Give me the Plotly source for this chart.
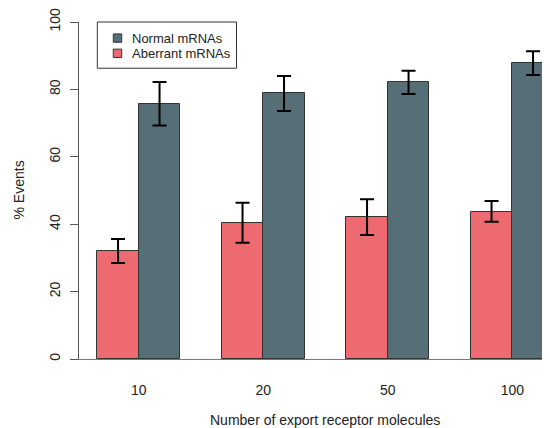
import plotly.graph_objects as go

categories = ["10", "20", "50", "100"]
aberrant = [32.1, 40.3, 42.2, 43.7]
aberrant_err_hi = [3.5, 6.1, 5.2, 3.2]
aberrant_err_lo = [3.6, 5.8, 5.4, 3.0]
normal = [75.8, 78.8, 82.2, 87.8]
normal_err_hi = [6.4, 5.2, 3.3, 3.5]
normal_err_lo = [6.5, 5.2, 3.6, 3.5]
y_ticks = [0, 20, 40, 60, 80, 100]
legend_labels = ["Normal mRNAs", "Aberrant mRNAs"]

# R barplot-style positions: each group = space 1 + two bars of width 1
ab_x = [1.5 + 3 * i for i in range(len(categories))]
no_x = [2.5 + 3 * i for i in range(len(categories))]
centers = [2 + 3 * i for i in range(len(categories))]

PINK = "#EC6A70"
SLATE = "#566F76"
FONT = "Liberation Sans, Arial, sans-serif"
TXT = "#222222"

fig = go.Figure()
fig.add_trace(go.Bar(
    x=ab_x, y=aberrant, width=1.0, name=legend_labels[1], showlegend=False,
    marker=dict(color=PINK, line=dict(color="#333333", width=1)),
    error_y=dict(type="data", symmetric=False, array=aberrant_err_hi,
                 arrayminus=aberrant_err_lo, color="black", thickness=2, width=7),
))
fig.add_trace(go.Bar(
    x=no_x, y=normal, width=1.0, name=legend_labels[0], showlegend=False,
    marker=dict(color=SLATE, line=dict(color="#333333", width=1)),
    error_y=dict(type="data", symmetric=False, array=normal_err_hi,
                 arrayminus=normal_err_lo, color="black", thickness=2, width=7),
))

# page body adds an 8px offset; plot area in screen px: x 79..550, y 20..359
PL, PW, PB, PH = 79.0, 471.0, 359.0, 339.0


def px(sx):
    return (sx - PL) / PW


def py(sy):
    return (PB - sy) / PH


shapes = [
    dict(type="rect", xref="paper", yref="paper", x0=px(97.3), x1=px(236.5),
         y0=py(66.5), y1=py(20), line=dict(color="#333333", width=1),
         fillcolor="white", layer="above"),
]
annotations = []
for lab, col, sy in zip(legend_labels, [SLATE, PINK], [36.2, 51.5]):
    shapes.append(dict(type="rect", xref="paper", yref="paper", x0=px(113.3), x1=px(121.7),
                       y0=py(sy + 4.2), y1=py(sy - 4.2), fillcolor=col,
                       line=dict(color="#333333", width=1), layer="above"))
    annotations.append(dict(text=lab, xref="paper", yref="paper", x=px(129.5), y=py(sy),
                            xanchor="left", yanchor="middle", showarrow=False,
                            font=dict(size=13, color=TXT)))

annotations += [
    dict(text="Number of export receptor molecules", xref="paper", yref="paper",
         x=px(324.5), y=py(420.5), xanchor="center", yanchor="middle", showarrow=False,
         font=dict(size=14, color=TXT)),
    dict(text="% Events", xref="paper", yref="paper", x=px(18), y=0.5,
         xanchor="center", yanchor="middle", textangle=-90, showarrow=False,
         font=dict(size=14, color=TXT)),
]

fig.update_layout(
    width=542, height=420,
    margin=dict(l=71, r=0, t=12, b=69),
    plot_bgcolor="white", paper_bgcolor="white",
    font=dict(family=FONT, size=14, color=TXT),
    bargap=0, barmode="overlay",
    showlegend=False,
    xaxis=dict(range=[0.559, 0.559 + 471 / 41.5], tickvals=centers, ticktext=categories,
               showgrid=False, zeroline=False, showline=True, linecolor="#777777",
               linewidth=1, ticks="", ticklabelstandoff=18, fixedrange=True),
    yaxis=dict(range=[0, 100], tickvals=y_ticks, showgrid=False, zeroline=False,
               showline=True, linecolor="#555555", linewidth=1, ticks="outside",
               ticklen=8, tickcolor="#555555", tickangle=-90, ticklabelstandoff=4,
               ticklabeloverflow="allow"),
    shapes=shapes,
    annotations=annotations,
)

fig.write_html("out.html")
